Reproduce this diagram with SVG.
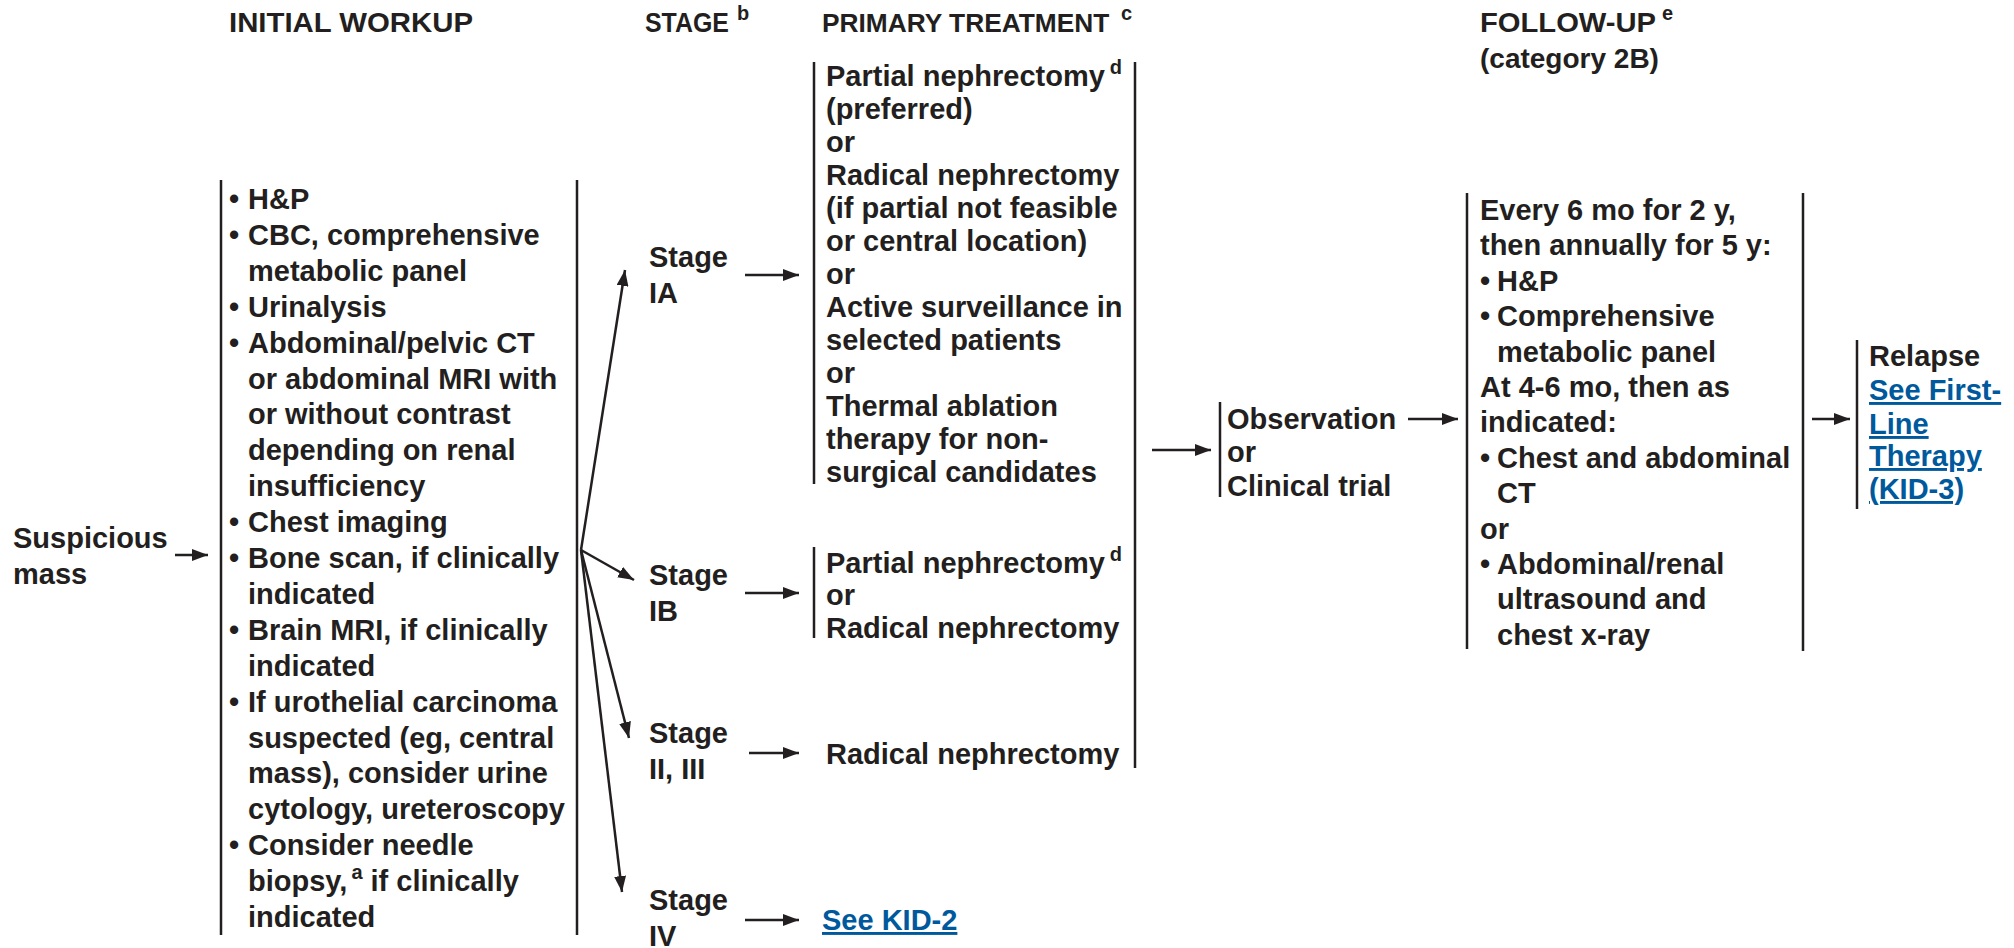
<svg xmlns="http://www.w3.org/2000/svg" width="2014" height="948" viewBox="0 0 2014 948">
<style>
text{font-family:"Liberation Sans",Arial,sans-serif;font-weight:bold;font-size:29px;fill:#231f20}
.h{font-size:28px}
.sup{font-size:20px}
.link{fill:#00599c;text-decoration:underline}
.br{stroke:#231f20;stroke-width:2.5;fill:none}
.ar{stroke:#231f20;stroke-width:2.5;fill:none;marker-end:url(#ah)}
</style>
<defs>
<marker id="ah" markerUnits="userSpaceOnUse" markerWidth="16" markerHeight="12" refX="16" refY="6" orient="auto">
<path d="M0,0 L16,6 L0,12 z" fill="#231f20"/>
</marker>
</defs>
<rect width="2014" height="948" fill="#fff"/>

<g id="headers">
<text class="h" x="229" y="32" textLength="244" lengthAdjust="spacingAndGlyphs">INITIAL WORKUP</text>
<text class="h" x="645" y="32" textLength="84" lengthAdjust="spacingAndGlyphs">STAGE</text>
<text class="sup" x="737" y="20">b</text>
<text x="822" y="32" style="font-size:26.3px">PRIMARY TREATMENT</text>
<text class="sup" x="1121" y="20">c</text>
<text class="h" x="1480" y="32" textLength="176" lengthAdjust="spacingAndGlyphs">FOLLOW-UP</text>
<text class="sup" x="1662" y="20">e</text>
<text class="h" x="1480" y="68">(category 2B)</text>
</g>

<g id="suspicious-mass">
<text x="13" y="548">Suspicious</text>
<text x="13" y="584">mass</text>
</g>

<g id="initial-workup">
<line class="br" x1="221" y1="180" x2="221" y2="935"/>
<line class="br" x1="577" y1="180" x2="577" y2="935"/>
<text x="229" y="209">•</text><text x="248" y="209">H&amp;P</text>
<text x="229" y="245">•</text><text x="248" y="245">CBC, comprehensive</text>
<text x="248" y="281">metabolic panel</text>
<text x="229" y="317">•</text><text x="248" y="317">Urinalysis</text>
<text x="229" y="353">•</text><text x="248" y="353">Abdominal/pelvic CT</text>
<text x="248" y="389">or abdominal MRI with</text>
<text x="248" y="424">or without contrast</text>
<text x="248" y="460">depending on renal</text>
<text x="248" y="496">insufficiency</text>
<text x="229" y="532">•</text><text x="248" y="532">Chest imaging</text>
<text x="229" y="568">•</text><text x="248" y="568">Bone scan, if clinically</text>
<text x="248" y="604">indicated</text>
<text x="229" y="640">•</text><text x="248" y="640">Brain MRI, if clinically</text>
<text x="248" y="676">indicated</text>
<text x="229" y="712">•</text><text x="248" y="712">If urothelial carcinoma</text>
<text x="248" y="748">suspected (eg, central</text>
<text x="248" y="783">mass), consider urine</text>
<text x="248" y="819">cytology, ureteroscopy</text>
<text x="229" y="855">•</text><text x="248" y="855">Consider needle</text>
<text x="248" y="891">biopsy,<tspan class="sup" dx="4" dy="-12">a</tspan><tspan dy="12"> if clinically</tspan></text>
<text x="248" y="927">indicated</text>
</g>

<g id="stage-ia"><text x="649" y="267">Stage</text><text x="649" y="303">IA</text></g>
<g id="stage-ib"><text x="649" y="585">Stage</text><text x="649" y="621">IB</text></g>
<g id="stage-ii-iii"><text x="649" y="743">Stage</text><text x="649" y="779">II, III</text></g>
<g id="stage-iv"><text x="649" y="910">Stage</text><text x="649" y="946">IV</text></g>

<g id="treatment-ia">
<line class="br" x1="814" y1="62" x2="814" y2="484"/>
<text x="826" y="86">Partial nephrectomy<tspan class="sup" dx="5" dy="-12">d</tspan></text>
<text x="826" y="119">(preferred)</text>
<text x="826" y="152">or</text>
<text x="826" y="185">Radical nephrectomy</text>
<text x="826" y="218">(if partial not feasible</text>
<text x="826" y="251">or central location)</text>
<text x="826" y="284">or</text>
<text x="826" y="317">Active surveillance in</text>
<text x="826" y="350">selected patients</text>
<text x="826" y="383">or</text>
<text x="826" y="416">Thermal ablation</text>
<text x="826" y="449">therapy for non-</text>
<text x="826" y="482">surgical candidates</text>
</g>

<g id="treatment-ib">
<line class="br" x1="814" y1="547" x2="814" y2="638"/>
<text x="826" y="573">Partial nephrectomy<tspan class="sup" dx="5" dy="-12">d</tspan></text>
<text x="826" y="605">or</text>
<text x="826" y="638">Radical nephrectomy</text>
</g>

<g id="treatment-ii-iii"><text x="826" y="764">Radical nephrectomy</text></g>
<g id="treatment-iv"><text class="link" x="822" y="930">See KID-2</text></g>

<g id="treatment-bracket"><line class="br" x1="1135" y1="62" x2="1135" y2="768"/></g>

<g id="observation">
<line class="br" x1="1220" y1="402" x2="1220" y2="497"/>
<text x="1227" y="429">Observation</text>
<text x="1227" y="462">or</text>
<text x="1227" y="496">Clinical trial</text>
</g>

<g id="follow-up">
<line class="br" x1="1467" y1="193" x2="1467" y2="649"/>
<line class="br" x1="1803" y1="193" x2="1803" y2="651"/>
<text x="1480" y="220">Every 6 mo for 2 y,</text>
<text x="1480" y="255">then annually for 5 y:</text>
<text x="1480" y="291">•</text><text x="1497" y="291">H&amp;P</text>
<text x="1480" y="326">•</text><text x="1497" y="326">Comprehensive</text>
<text x="1497" y="362">metabolic panel</text>
<text x="1480" y="397">At 4-6 mo, then as</text>
<text x="1480" y="432">indicated:</text>
<text x="1480" y="468">•</text><text x="1497" y="468">Chest and abdominal</text>
<text x="1497" y="503">CT</text>
<text x="1480" y="539">or</text>
<text x="1480" y="574">•</text><text x="1497" y="574">Abdominal/renal</text>
<text x="1497" y="609">ultrasound and</text>
<text x="1497" y="645">chest x-ray</text>
</g>

<g id="relapse">
<line class="br" x1="1857" y1="340" x2="1857" y2="509"/>
<text x="1869" y="366">Relapse</text>
<text class="link" x="1869" y="400">See First-</text>
<text class="link" x="1869" y="434">Line</text>
<text class="link" x="1869" y="466">Therapy</text>
<text class="link" x="1869" y="499">(KID-3)</text>
</g>

<g id="connectors">
<line class="ar" x1="175" y1="555" x2="208" y2="555"/>
<line class="ar" x1="581" y1="550" x2="625" y2="270"/>
<line class="ar" x1="581" y1="550" x2="634" y2="580"/>
<line class="ar" x1="581" y1="550" x2="629" y2="738"/>
<line class="ar" x1="581" y1="550" x2="622" y2="892"/>
<line class="ar" x1="745" y1="275" x2="799" y2="275"/>
<line class="ar" x1="745" y1="593" x2="799" y2="593"/>
<line class="ar" x1="749" y1="753" x2="799" y2="753"/>
<line class="ar" x1="745" y1="920" x2="799" y2="920"/>
<line class="ar" x1="1152" y1="450" x2="1211" y2="450"/>
<line class="ar" x1="1408" y1="419" x2="1458" y2="419"/>
<line class="ar" x1="1812" y1="419" x2="1850" y2="419"/>
</g>
</svg>
